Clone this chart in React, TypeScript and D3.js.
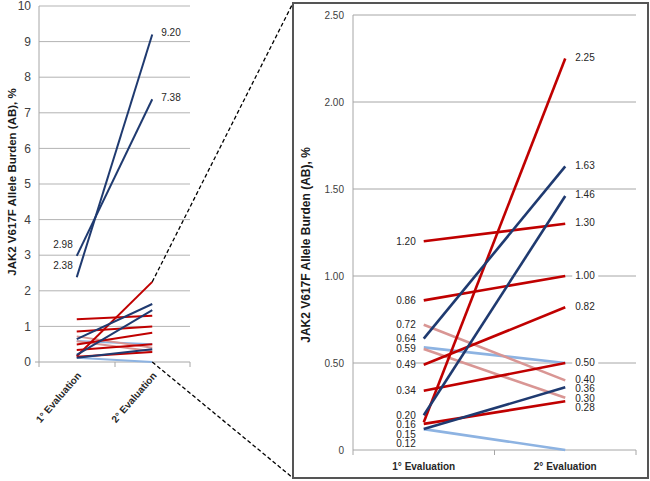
import * as d3 from 'd3';

// two evaluations per patient, AB %
const evaluations = ['1° Evaluation', '2° Evaluation'];
const firstEval = [1.2, 0.86, 0.72, 0.64, 0.59, 0.58, 0.49, 0.34, 0.2, 0.16, 0.15, 0.12, 0.12, 2.98, 2.38];
const secondEval = [1.3, 1.0, 0.4, 1.63, 0.5, 0.3, 0.82, 0.5, 1.46, 2.25, 0.28, 0.36, 0.0, 7.38, 9.2];
const seriesKind = ['red', 'red', 'pink', 'blue', 'light', 'pink', 'red', 'red', 'blue', 'red', 'red', 'blue', 'light', 'blue', 'blue'];

// labelled values
const overviewFirstLabels = [2.98, 2.38];
const overviewSecondLabels = [9.2, 7.38];
const zoomFirstLabels = [1.2, 0.86, 0.72, 0.64, 0.59, 0.49, 0.34, 0.2, 0.16, 0.15, 0.12];
const zoomSecondLabels = [2.25, 1.63, 1.46, 1.3, 1.0, 0.82, 0.5, 0.4, 0.36, 0.3, 0.28];

const overviewTicks = d3.range(0, 11, 1);
const zoomTicks = [0, 0.5, 1.0, 1.5, 2.0, 2.5];

const colors: Record<string, string> = {
  red: '#c00000',
  blue: '#1f3a70',
  pink: '#d99694',
  light: '#8db3e2',
};
const drawOrder = ['light', 'pink', 'red', 'blue'];

const W = 650;
const H = 481;
const font = '"Liberation Sans", Arial, sans-serif';
const title = 'JAK2 V617F Allele Burden (AB), %';

// push labels apart so they don't collide (sorted top to bottom)
function spread(values: number[], y: (v: number) => number, gap: number) {
  const sorted = [...values].sort((a, b) => b - a);
  let last = -Infinity;
  return sorted.map(v => {
    let p = y(v);
    if (p - last < gap) p = last + gap;
    last = p;
    return { v, p };
  });
}

const idx = d3.range(firstEval.length).sort((a, b) => drawOrder.indexOf(seriesKind[a]) - drawOrder.indexOf(seriesKind[b]));

export default function App() {
  // overview panel
  const xL = d3.scalePoint<string>().domain(evaluations).range([39, 190]).padding(0.5);
  const yL = d3.scaleLinear().domain([0, 10]).range([362, 6]);
  // zoom panel
  const xR = d3.scalePoint<string>().domain(evaluations).range([353, 636]).padding(0.5);
  const yR = d3.scaleLinear().domain([0, 2.5]).range([450, 15]);

  const zoomIdx = idx.filter(i => firstEval[i] <= 2.5 && secondEval[i] <= 2.5);
  const x1L = xL(evaluations[0])!;
  const x2L = xL(evaluations[1])!;
  const x1R = xR(evaluations[0])!;
  const x2R = xR(evaluations[1])!;

  const box = { x: 293, y: 3, w: 355, h: 475 };

  return (
    <svg width={W} height={H} style={{ position: 'absolute', left: 0, top: 0, background: '#fff' }} fontFamily={font}>
      {/* overview grid */}
      {overviewTicks.map(t => (
        <g key={`gl${t}`}>
          {t > 0 && <line x1={39} x2={190} y1={yL(t)} y2={yL(t)} stroke="#b3b3b3" strokeWidth={1} />}
          <text x={31} y={yL(t)} dy="0.35em" textAnchor="end" fontSize={12} fill="#404040">
            {t}
          </text>
        </g>
      ))}
      <line x1={39} x2={39} y1={yL(10)} y2={yL(0)} stroke="#a6a6a6" />
      <line x1={35} x2={190} y1={yL(0)} y2={yL(0)} stroke="#a6a6a6" />
      {[39, 115, 190].map(x => (
        <line key={`tl${x}`} x1={x} x2={x} y1={yL(0)} y2={yL(0) + 5} stroke="#a6a6a6" />
      ))}
      {evaluations.map(e => (
        <text
          key={`xl${e}`}
          transform={`translate(${xL(e)! + 5},${yL(0) + 14}) rotate(-49)`}
          textAnchor="end"
          fontSize={10}
          fontWeight="bold"
          fill="#262626"
        >
          {e}
        </text>
      ))}
      <text transform={`translate(16,${182}) rotate(-90)`} textAnchor="middle" fontSize={11.5} fontWeight="bold" fill="#1a1a1a">
        {title}
      </text>
      {idx.map(i => (
        <line
          key={`ll${i}`}
          x1={x1L}
          x2={x2L}
          y1={yL(firstEval[i])}
          y2={yL(secondEval[i])}
          stroke={colors[seriesKind[i]]}
          strokeWidth={2}
        />
      ))}
      {overviewFirstLabels.map(v => (
        <text key={`lf${v}`} x={x1L - 4} y={yL(v) - 8} textAnchor="end" fontSize={10} fill="#262626">
          {v.toFixed(2)}
        </text>
      ))}
      {overviewSecondLabels.map(v => (
        <text key={`ls${v}`} x={x2L + 9} y={yL(v)} dy="0.2em" fontSize={10} fill="#262626">
          {v.toFixed(2)}
        </text>
      ))}

      {/* connector */}
      <line x1={x2L} y1={yL(2.25)} x2={box.x} y2={box.y} stroke="#000" strokeWidth={1.3} strokeDasharray="4,2.5" />
      <line x1={x2L} y1={yL(0)} x2={box.x} y2={box.y + box.h} stroke="#000" strokeWidth={1.3} strokeDasharray="4,2.5" />

      {/* zoom panel */}
      <rect x={box.x} y={box.y} width={box.w} height={box.h} fill="#fff" stroke="#555" strokeWidth={2} />
      {zoomTicks.map(t => (
        <g key={`gr${t}`}>
          {t > 0 && <line x1={353} x2={636} y1={yR(t)} y2={yR(t)} stroke="#a6a6a6" strokeWidth={1} />}
          <text x={344} y={yR(t)} dy="0.35em" textAnchor="end" fontSize={10} fill="#404040">
            {t === 0 ? '0' : t.toFixed(2)}
          </text>
        </g>
      ))}
      <line x1={353} x2={353} y1={yR(2.5)} y2={yR(0)} stroke="#a6a6a6" />
      <line x1={353} x2={636} y1={yR(0)} y2={yR(0)} stroke="#a6a6a6" />
      {[353, 494.5, 636].map(x => (
        <line key={`tr${x}`} x1={x} x2={x} y1={yR(0)} y2={yR(0) + 5} stroke="#a6a6a6" />
      ))}
      {evaluations.map(e => (
        <text key={`xr${e}`} x={xR(e)} y={yR(0) + 20} textAnchor="middle" fontSize={10} fontWeight="bold" fill="#262626">
          {e}
        </text>
      ))}
      <text transform={`translate(310,${245}) rotate(-90)`} textAnchor="middle" fontSize={12} fontWeight="bold" fill="#1a1a1a">
        {title}
      </text>
      {zoomIdx.map(i => (
        <line
          key={`rl${i}`}
          x1={x1R}
          x2={x2R}
          y1={yR(firstEval[i])}
          y2={yR(secondEval[i])}
          stroke={colors[seriesKind[i]]}
          strokeWidth={2.6}
        />
      ))}
      {spread(zoomFirstLabels, yR, 9.5).map(({ v, p }) => (
        <g key={`rf${v}`}>
          <rect x={x1R - 33} y={p - 5} width={25} height={10} fill="#fff" />
          <text x={x1R - 8} y={p} dy="0.35em" textAnchor="end" fontSize={10} fill="#262626">
            {v.toFixed(2)}
          </text>
        </g>
      ))}
      {spread(zoomSecondLabels, yR, 9.5).map(({ v, p }) => (
        <g key={`rs${v}`}>
          <rect x={x2R + 7} y={p - 5} width={26} height={10} fill="#fff" />
          <text x={x2R + 10} y={p - 1} dy="0.35em" fontSize={10} fill="#262626">
            {v.toFixed(2)}
          </text>
        </g>
      ))}
    </svg>
  );
}
